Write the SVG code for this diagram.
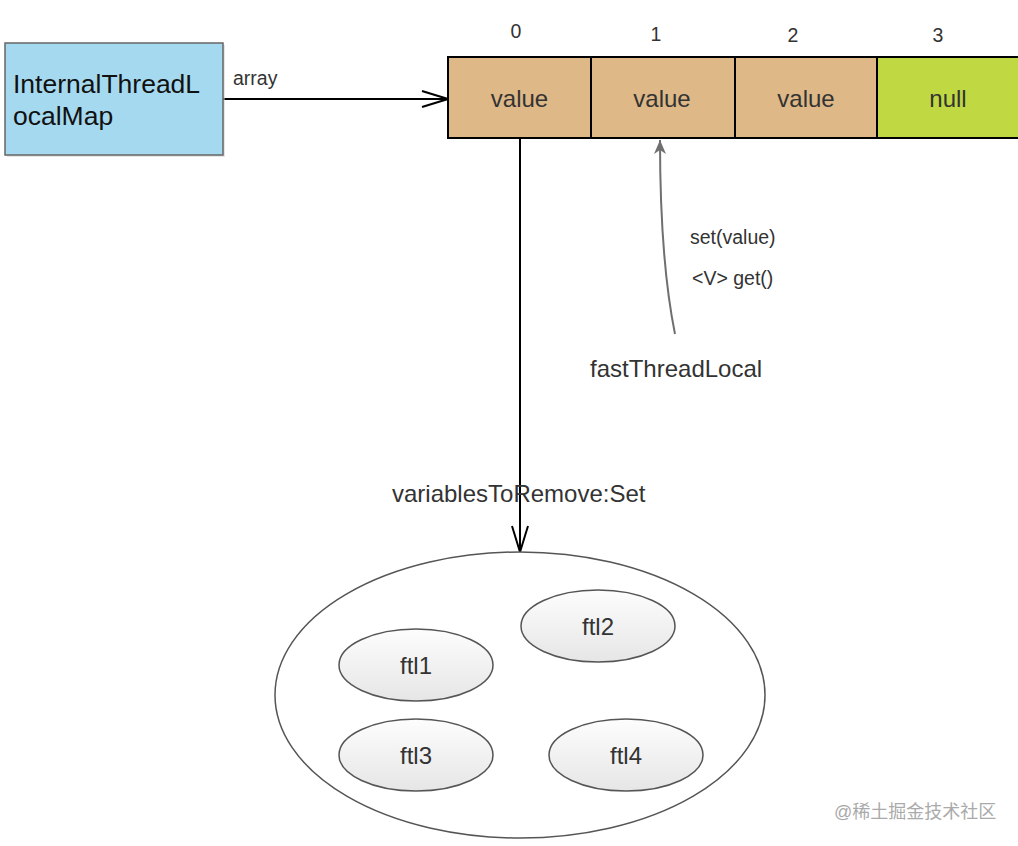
<svg xmlns="http://www.w3.org/2000/svg" width="1018" height="846" viewBox="0 0 1018 846">
<style>
text{font-family:"Liberation Sans",Arial,sans-serif;fill:#333}
.big{font-size:24px}
.sm{font-size:19.5px}
.cell{fill:#deb887;stroke:#000;stroke-width:2}
.ftl{fill:url(#g);stroke:#555;stroke-width:1.5}
</style>
<defs>
<linearGradient id="g" x1="0" y1="0" x2="0" y2="1"><stop offset="0" stop-color="#fdfdfd"/><stop offset="1" stop-color="#e6e6e6"/></linearGradient>
<marker id="open" markerWidth="30" markerHeight="20" refX="28" refY="10" orient="auto" markerUnits="userSpaceOnUse"><path d="M2,2 L28,10 L2,18" fill="none" stroke="#000" stroke-width="2"/></marker>
<marker id="tri" markerWidth="16" markerHeight="16" refX="14" refY="8" orient="auto" markerUnits="userSpaceOnUse"><path d="M0,2 L14,8 L0,14 L4,8 Z" fill="#6f6f6f"/></marker>
</defs>
<g id="connectors">
<line x1="223" y1="99" x2="448" y2="99" stroke="#000" stroke-width="2" marker-end="url(#open)"/>
<line x1="520" y1="138" x2="520" y2="552" stroke="#000" stroke-width="2" marker-end="url(#open)"/>
<path d="M675,334 Q660,260 660,140" fill="none" stroke="#6f6f6f" stroke-width="2" marker-end="url(#tri)"/>
<text class="sm" x="233" y="85">array</text>
<text class="sm" x="690" y="244">set(value)</text>
<text class="sm" x="692" y="285">&lt;V&gt; get()</text>
<text class="big" x="392" y="502">variablesToRemove:Set</text>
</g>
<g id="internalThreadLocalMap">
<rect x="7" y="45" width="218" height="112" fill="#ccc" opacity="0.5"/>
<rect x="5" y="43" width="218" height="112" fill="#a5d9ef" stroke="#666" stroke-width="1.5"/>
<text x="13" y="93" style="fill:#111;font-size:26.5px">InternalThreadL</text>
<text x="13" y="125" style="fill:#111;font-size:26.5px">ocalMap</text>
</g>
<g id="array">
<rect class="cell" x="448" y="57" width="143" height="81"/>
<rect class="cell" x="591" y="57" width="144" height="81"/>
<rect class="cell" x="735" y="57" width="142" height="81"/>
<rect x="877" y="57" width="145" height="81" fill="#c0d943" stroke="#000" stroke-width="2"/>
<text class="big" x="519.5" y="107" text-anchor="middle">value</text>
<text class="big" x="662" y="107" text-anchor="middle">value</text>
<text class="big" x="806" y="107" text-anchor="middle">value</text>
<text class="big" x="948" y="107" text-anchor="middle">null</text>
<text class="sm" x="516" y="38" text-anchor="middle">0</text>
<text class="sm" x="656" y="41" text-anchor="middle">1</text>
<text class="sm" x="793" y="42" text-anchor="middle">2</text>
<text class="sm" x="938" y="42" text-anchor="middle">3</text>
</g>
<g id="fastThreadLocal">
<text class="big" x="590" y="377">fastThreadLocal</text>
</g>
<g id="set">
<ellipse cx="520" cy="695" rx="245" ry="143" fill="#fff" stroke="#555" stroke-width="1.5"/>
</g>
<g id="ftl1"><ellipse class="ftl" cx="416" cy="665" rx="77" ry="36"/><text class="big" x="416" y="674" text-anchor="middle">ftl1</text></g>
<g id="ftl2"><ellipse class="ftl" cx="598" cy="626" rx="77" ry="36"/><text class="big" x="598" y="635" text-anchor="middle">ftl2</text></g>
<g id="ftl3"><ellipse class="ftl" cx="416" cy="755" rx="77" ry="36"/><text class="big" x="416" y="764" text-anchor="middle">ftl3</text></g>
<g id="ftl4"><ellipse class="ftl" cx="626" cy="755" rx="77" ry="36"/><text class="big" x="626" y="764" text-anchor="middle">ftl4</text></g>
<text x="834" y="818" style="font-family:'Liberation Sans','Noto Sans CJK SC',sans-serif;font-size:18px;fill:#aaa">@稀土掘金技术社区</text>
</svg>
